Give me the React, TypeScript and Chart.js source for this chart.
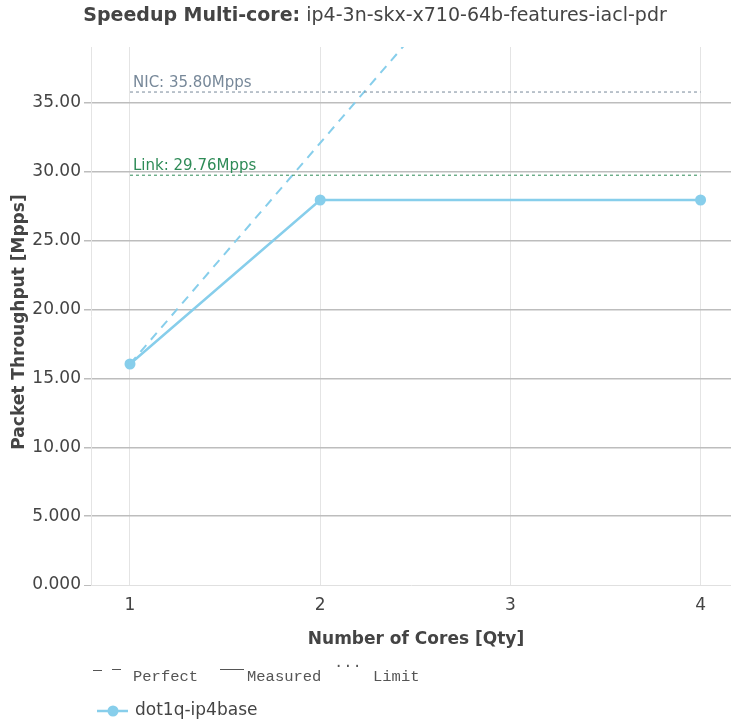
import React, { useEffect, useRef } from "react";
import { Chart, registerables } from "chart.js";

Chart.register(...registerables);

const categories = ["1", "2", "3", "4"];
const measured: (number | null)[] = [16.05, 27.96, null, 27.96];
const perfect: number[] = [16.05, 32.1, 48.15, 64.2];
const nicLimit = 35.8;
const linkLimit = 29.76;
const yTicks = [0, 5, 10, 15, 20, 25, 30, 35];
const seriesName = "dot1q-ip4base";
const titleBold = "Speedup Multi-core:";
const titleRest = " ip4-3n-skx-x710-64b-features-iacl-pdr";

const FONT = "'DejaVu Sans', sans-serif";
const MONO = "'Liberation Mono', 'DejaVu Sans Mono', monospace";
const SERIES = "#87ceeb";
const NIC = "#778899";
const LINK = "#2e8b57";

const fmt = (v: number) => (v < 10 ? v.toFixed(3) : v.toFixed(2));

export default function App() {
  const ref = useRef<HTMLCanvasElement | null>(null);
  useEffect(() => {
    if (!ref.current) return;
    const toPts = (arr: (number | null)[]) =>
      arr
        .map((y, i) => (y === null ? null : { x: i, y }))
        .filter((p) => p !== null) as { x: number; y: number }[];
    const limitPts = (v: number) => [
      { x: 0, y: v },
      { x: categories.length - 1, y: v },
    ];

    const decor = {
      id: "decor",
      afterDraw(chart: any) {
        const ctx = chart.ctx as CanvasRenderingContext2D;
        const ca = chart.chartArea;
        const xs = chart.scales.x;
        const ys = chart.scales.y;
        ctx.save();
        // title
        ctx.textBaseline = "middle";
        ctx.fillStyle = "#444";
        ctx.font = `bold 19px ${FONT}`;
        const w1 = ctx.measureText(titleBold).width;
        ctx.font = `19px ${FONT}`;
        const w2 = ctx.measureText(titleRest).width;
        const tx = 375 - (w1 + w2) / 2;
        ctx.textAlign = "left";
        ctx.font = `bold 19px ${FONT}`;
        ctx.fillText(titleBold, tx, 16);
        ctx.font = `19px ${FONT}`;
        ctx.fillText(titleRest, tx + w1, 16);

        // limit labels
        ctx.font = `15px ${FONT}`;
        ctx.textBaseline = "alphabetic";
        ctx.fillStyle = NIC;
        ctx.fillText(`NIC: ${nicLimit.toFixed(2)}Mpps`, xs.getPixelForValue(0) + 3, ys.getPixelForValue(nicLimit) - 5);
        ctx.fillStyle = LINK;
        ctx.fillText(`Link: ${linkLimit.toFixed(2)}Mpps`, xs.getPixelForValue(0) + 3, ys.getPixelForValue(linkLimit) - 5);

        // axis titles
        ctx.fillStyle = "#444";
        ctx.font = `bold 17px ${FONT}`;
        ctx.textAlign = "center";
        ctx.textBaseline = "middle";
        ctx.fillText("Number of Cores [Qty]", (ca.left + ca.right) / 2 + 5, 640);
        ctx.save();
        ctx.translate(20, (ca.top + ca.bottom) / 2 + 6);
        ctx.rotate(-Math.PI / 2);
        ctx.fillText("Packet Throughput [Mpps]", 0, 0);
        ctx.restore();

        // legend row 1
        ctx.textAlign = "left";
        ctx.textBaseline = "alphabetic";
        ctx.fillStyle = "#555";
        ctx.font = `15.5px ${MONO}`;
        ctx.fillText("Perfect", 133, 681);
        ctx.fillText("Measured", 247, 681);
        ctx.fillText("Limit", 373, 681);
        ctx.fillText("...", 334, 667);
        // symbols
        ctx.strokeStyle = "#555";
        ctx.lineWidth = 1;
        ctx.beginPath();
        ctx.moveTo(93, 670.5);
        ctx.lineTo(102, 670.5);
        ctx.moveTo(112, 669.5);
        ctx.lineTo(121, 669.5);
        ctx.moveTo(220, 669.5);
        ctx.lineTo(244, 669.5);
        ctx.stroke();

        // legend row 2
        ctx.strokeStyle = SERIES;
        ctx.lineWidth = 2.5;
        ctx.beginPath();
        ctx.moveTo(97, 711);
        ctx.lineTo(128, 711);
        ctx.stroke();
        ctx.fillStyle = SERIES;
        ctx.beginPath();
        ctx.arc(113, 711, 5.5, 0, Math.PI * 2);
        ctx.fill();
        ctx.fillStyle = "#444";
        ctx.font = `17px ${FONT}`;
        ctx.textBaseline = "middle";
        ctx.fillText(seriesName, 135, 711);
        ctx.restore();
      },
    };

    const chart = new Chart(ref.current, {
      type: "line",
      data: {
        datasets: [
          {
            label: "NIC",
            data: limitPts(nicLimit),
            borderColor: NIC,
            borderWidth: 1,
            borderDash: [3, 3],
            pointRadius: 0,
          },
          {
            label: "Link",
            data: limitPts(linkLimit),
            borderColor: LINK,
            borderWidth: 1,
            borderDash: [3, 3],
            pointRadius: 0,
          },
          {
            label: "Perfect",
            data: toPts(perfect),
            borderColor: SERIES,
            borderWidth: 2,
            borderDash: [9, 7],
            pointRadius: 0,
          },
          {
            label: seriesName,
            data: toPts(measured),
            borderColor: SERIES,
            backgroundColor: SERIES,
            borderWidth: 2.5,
            pointRadius: 5.5,
            pointBorderWidth: 0,
          },
        ],
      },
      options: {
        animation: false,
        responsive: false,
        layout: { autoPadding: false, padding: { top: 47, left: 0, right: 0, bottom: 0 } },
        plugins: {
          legend: { display: false },
          title: { display: false },
          tooltip: { enabled: false },
        },
        scales: {
          x: {
            type: "linear",
            min: -0.205,
            max: 3.16,
            afterBuildTicks: (s: any) => {
              s.ticks = categories.map((_, i) => ({ value: i }));
            },
            afterFit: (s: any) => {
              s.height = 141;
              s.paddingLeft = 0;
              s.paddingRight = 0;
            },
            ticks: {
              callback: (v: any) => categories[Number(v)] ?? "",
              font: { family: FONT, size: 17 },
              color: "#444",
              padding: 10,
              autoSkip: false,
              maxRotation: 0,
            },
            grid: { color: "#e4e4e4", lineWidth: 1, drawTicks: false },
            border: { display: false },
          },
          y: {
            type: "linear",
            min: 0,
            max: 39.07,
            afterBuildTicks: (s: any) => {
              s.ticks = yTicks.map((v) => ({ value: v }));
            },
            afterFit: (s: any) => {
              s.width = 91;
              s.paddingTop = 0;
              s.paddingBottom = 0;
            },
            ticks: {
              callback: (v: any) => fmt(Number(v)),
              font: { family: FONT, size: 17 },
              color: "#444",
              padding: 3,
            },
            grid: {
              color: (c: any) => (c.tick && c.tick.value === 0 ? "#e0e0e0" : "#bdbdbd"),
              lineWidth: (c: any) => (c.tick && c.tick.value === 0 ? 1 : 1.5),
              tickLength: 7,
              tickColor: "#bdbdbd",
            },
            border: { display: true, color: "#e4e4e4", width: 1 },
          },
        },
      },
      plugins: [decor],
    } as any);
    return () => chart.destroy();
  }, []);

  return (
    <div style={{ position: "absolute", left: 0, top: 0, width: 731, height: 726, background: "#fff" }}>
      <canvas ref={ref} width={731} height={726} />
    </div>
  );
}
